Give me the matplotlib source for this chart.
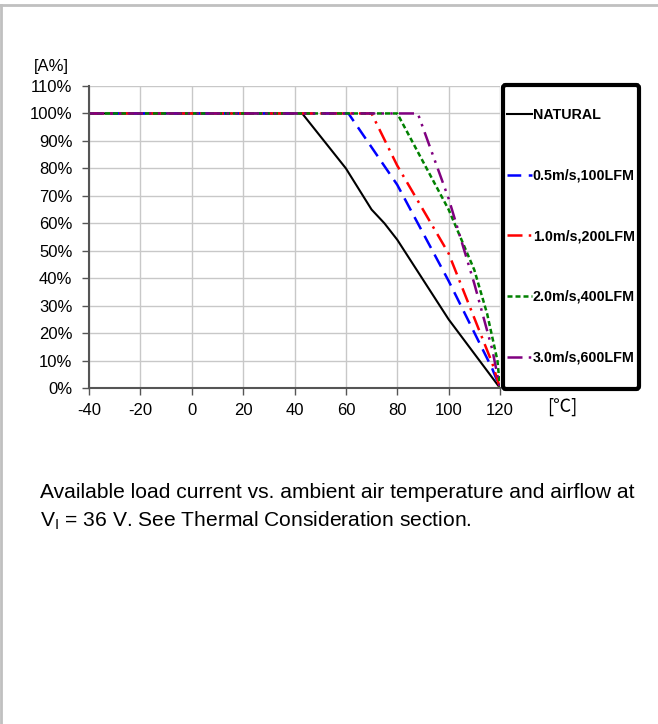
import numpy as np
import matplotlib
matplotlib.use("Agg")
import matplotlib.pyplot as plt
from matplotlib.lines import Line2D
from matplotlib.patches import FancyBboxPatch

plt.rcParams['font.family'] = ['Liberation Sans', 'DejaVu Sans']
plt.rcParams['axes.unicode_minus'] = False

# derating curves: ambient temperature [C] vs available load current [%]
natural_t = [-40, 43, 60, 70, 75, 80, 100, 120]
natural_i = [100, 100, 80, 65, 60, 54, 25, 0]
air05_t = [-40, 61, 80, 100, 117, 120]
air05_i = [100, 100, 74, 39, 7, 0]
air10_t = [-40, 70, 80, 100, 117, 120]
air10_i = [100, 100, 81, 49, 9, 0]
air20_t = [-40, 80, 100, 110, 115, 119, 120]
air20_i = [100, 100, 65, 43, 27, 10, 0]
air30_t = [-40, 88, 100, 110, 117, 120]
air30_i = [100, 100, 69, 38, 14, 0]

labels = ["NATURAL", "0.5m/s,100LFM", "1.0m/s,200LFM", "2.0m/s,400LFM", "3.0m/s,600LFM"]
xticks = [-40, -20, 0, 20, 40, 60, 80, 100, 120]
yticks = [0, 10, 20, 30, 40, 50, 60, 70, 80, 90, 100, 110]

W, H = 658, 724
fig = plt.figure(figsize=(W / 100, H / 100), dpi=100)

def fx(px):
    return px / W

def fy(py):
    return 1 - py / H

ax = fig.add_axes([fx(89), fy(388), fx(500) - fx(89), fy(86) - fy(388)])

h1, = ax.plot(natural_t, natural_i, color='black', lw=1.5, ls='-')
h2, = ax.plot(air05_t, air05_i, color='#0000ff', lw=1.8, ls=(0, (5.5, 3)))
h3, = ax.plot(air10_t, air10_i, color='#ff0000', lw=1.8, ls=(0, (6, 2.5, 1, 2.5)))
h4, = ax.plot(air20_t, air20_i, color='#008000', lw=1.8, ls=(0, (2, 1.2)))
h5, = ax.plot(air30_t, air30_i, color='#800080', lw=1.8, ls=(0, (6, 2.5, 1, 2.5, 1, 2.5)))

ax.set_xlim(-40, 120)
ax.set_ylim(0, 110)
ax.set_xticks(xticks)
ax.set_yticks(yticks)
ax.set_yticklabels([f"{v}%" for v in yticks])
ax.tick_params(axis='both', labelsize=12, length=5, width=1, color='#555555')
ax.tick_params(axis='y', pad=7)
ax.tick_params(axis='x', pad=6)
ax.grid(True, color='#c8c8c8', lw=1)
ax.set_axisbelow(True)
for s in ['top', 'right']:
    ax.spines[s].set_visible(False)
for s in ['left', 'bottom']:
    ax.spines[s].set_color('#555555')
    ax.spines[s].set_linewidth(1.5)

# axis unit labels
fig.text(fx(34), fy(66), "[A%]", fontsize=12, va='center', ha='left')
fig.text(fx(547), fy(407), "[℃]", fontsize=13, va='center', ha='left',
         family=['Noto Sans CJK SC', 'DejaVu Sans'])

# legend box
box = FancyBboxPatch((fx(503), fy(389)), fx(639) - fx(503), fy(85) - fy(389),
                     boxstyle="round,pad=0,rounding_size=0.004",
                     transform=fig.transFigure, fill=False, ec='black', lw=3)
fig.add_artist(box)
leg = fig.legend([h1, h2, h3, h4, h5], labels, loc='upper left',
                 bbox_to_anchor=(fx(507), fy(108)), frameon=False,
                 prop={'weight': 'bold', 'size': 10.3}, handlelength=1.75,
                 handletextpad=0.05, labelspacing=3.26, borderpad=0, borderaxespad=0)

# caption
fig.text(fx(40), fy(492), "Available load current vs. ambient air temperature and airflow at",
         fontsize=15.1, va='center', ha='left')
fig.text(fx(40), fy(521), "V$_\\mathregular{I}$ = 36 V. See Thermal Consideration section.",
         fontsize=15.1, va='center', ha='left')

# page border lines
fig.add_artist(Line2D([0, 1], [fy(5), fy(5)], transform=fig.transFigure, color='#c0c0c0', lw=2))
fig.add_artist(Line2D([fx(1), fx(1)], [0, fy(5)], transform=fig.transFigure, color='#c0c0c0', lw=2))

fig.savefig("out.png", dpi=100)
